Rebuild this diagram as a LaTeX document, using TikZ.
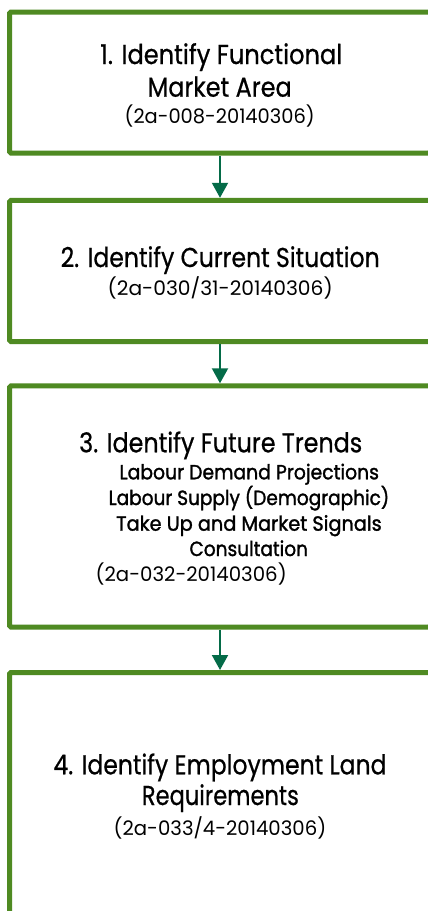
\documentclass[tikz,border=0pt]{standalone}
\usepackage{fontspec}
\setmainfont{Poppins}
\newfontfamily\titlefont{Poppins}[FakeBold=0.7]
\newfontfamily\subfont{Poppins}[FakeBold=1.5]
\usepackage{graphicx}
\usetikzlibrary{arrows.meta}
\definecolor{boxgreen}{RGB}{79,138,34}
\definecolor{arrowgreen}{RGB}{4,107,72}
\newcommand{\fitline}[3]{\resizebox{#1pt}{\height}{\fontsize{#2pt}{#2pt}\selectfont #3}}
\begin{document}
\begin{tikzpicture}[x=1pt,y=-1pt,
  box/.style={draw=boxgreen, line width=5pt, rounded corners=1.5pt, minimum width=421pt, inner sep=0pt},
  txt/.style={inner sep=0pt, anchor=base west, text=black},
  flow/.style={draw=arrowgreen, line width=2pt, -{Triangle[width=16pt,length=15pt]}}]
\useasboundingbox (0,0) rectangle (428,911);
\fill[white] (0,0) rectangle (428,911);
\begin{scope}
\clip (0,0) rectangle (428,911);
\node[box, minimum height=141pt] (b1) at (220,82.5) {};
\node[box, minimum height=141.4pt] (b2) at (220,271) {};
\node[box, minimum height=241.2pt] (b3) at (220,506.4) {};
\node[box, minimum height=244pt] (b4) at (220,794.5) {};
\draw[flow] (b1.south) -- (b2.north);
\draw[flow] (b2.south) -- (b3.north);
\draw[flow] (b3.south) -- (b4.north);
\end{scope}
% box 1
\node[txt] (t1a) at (100,64) {\fitline{242}{27.3}{\titlefont 1. Identify Functional}};
\node[txt] (t1b) at (147.5,96.7) {\fitline{144}{27.3}{\titlefont Market Area}};
\node[txt] (t1c) at (124.5,123.3) {\fitline{190}{20}{(2a-008-20140306)}};
% box 2
\node[txt] (t2a) at (60.5,267) {\fitline{319}{27.3}{\titlefont 2. Identify Current Situation}};
\node[txt] (t2b) at (107.5,295) {\fitline{225}{20}{(2a-030/31-20140306)}};
% box 3
\node[txt] (t3a) at (79,452.3) {\fitline{283}{27.3}{\titlefont 3. Identify Future Trends}};
\node[txt] (t3b) at (119.3,479.3) {\fitline{259.5}{20.5}{\subfont Labour Demand Projections}};
\node[txt] (t3c) at (108.5,505) {\fitline{280.5}{20.5}{\subfont Labour Supply (Demographic)}};
\node[txt] (t3d) at (116,530.7) {\fitline{265.5}{20.5}{\subfont Take Up and Market Signals}};
\node[txt] (t3e) at (189.3,556) {\fitline{118.5}{20.5}{\subfont Consultation}};
\node[txt] (t3f) at (95.5,581.7) {\fitline{191}{20}{(2a-032-20140306)}};
% box 4
\node[txt] (t4a) at (53.3,774.3) {\fitline{333}{27.3}{\titlefont 4. Identify Employment Land}};
\node[txt] (t4b) at (141.7,805) {\fitline{157}{27.3}{\titlefont Requirements}};
\node[txt] (t4c) at (113.5,835) {\fitline{212.5}{20}{(2a-033/4-20140306)}};
\end{tikzpicture}
\end{document}
